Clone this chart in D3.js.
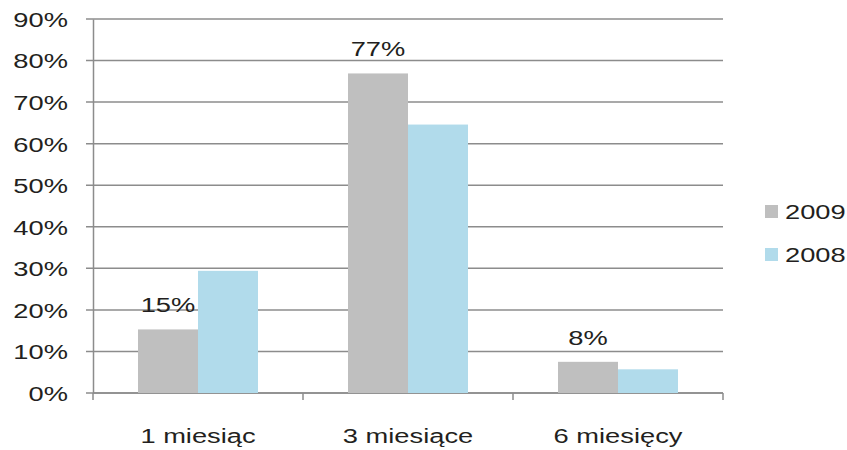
<!DOCTYPE html>
<html>
<head>
<meta charset="utf-8">
<script src="https://cdn.jsdelivr.net/npm/d3@7"></script>
<style>
  body { margin: 0; background: #fff; }
  text { font-family: "Liberation Sans", Arial, sans-serif; fill: #231f20; }
</style>
</head>
<body>
<div id="VizBox"></div>
<script>
var categories = ["1 miesiąc", "3 miesiące", "6 miesięcy"];
var seriesNames = ["2009", "2008"];
var values2009 = [15.3, 76.9, 7.5];
var values2008 = [29.4, 64.6, 5.7];
var labels2009 = ["15%", "77%", "8%"];
var yTicks = [0, 10, 20, 30, 40, 50, 60, 70, 80, 90];
var colors = ["#bfbfbf", "#b1dbeb"];

// the source picture is stretched sideways, so text gets the same stretch
var sx = 1.3;
var fontSize = "21px";

// set the dimensions and margins of the graph
var margin = {top: 19, right: 124, bottom: 57, left: 93},
    width = 847 - margin.left - margin.right,
    height = 450 - margin.top - margin.bottom;

var svg = d3.select("#VizBox")
  .append("svg")
    .attr("width", 847)
    .attr("height", 450)
  .append("g")
    .attr("transform", "translate(" + margin.left + "," + margin.top + ")");

// move x/y into a transform and widen the glyphs
function stretch(sel) {
  sel.each(function() {
    var t = d3.select(this);
    var tx = +t.attr("x") || 0, ty = +t.attr("y") || 0;
    t.attr("x", 0).attr("y", 0)
     .attr("transform", "translate(" + tx + "," + ty + ") scale(" + sx + ",1)");
  });
}

var x = d3.scaleBand()
  .domain(categories)
  .range([0, width])
  .paddingInner(0)
  .paddingOuter(0);

var x1 = d3.scaleBand()
  .domain(seriesNames)
  .range([45, x.bandwidth() - 45]);

var y = d3.scaleLinear()
  .domain([0, 90])
  .range([height, 0]);

// gridlines
svg.append("g")
  .selectAll("line")
  .data(yTicks)
  .enter()
  .append("line")
    .attr("x1", -7)
    .attr("x2", width)
    .attr("y1", function(d) { return y(d); })
    .attr("y2", function(d) { return y(d); })
    .attr("stroke", "#8c8c8c")
    .attr("stroke-width", 1.5);

// y axis
var yAxis = svg.append("g")
  .call(d3.axisLeft(y).tickValues(yTicks).tickSize(0).tickPadding(25)
    .tickFormat(function(d) { return d + "%"; }));
yAxis.select(".domain").attr("stroke", "#8c8c8c").attr("stroke-width", 1.5);
yAxis.selectAll("text")
  .attr("font-size", fontSize)
  .attr("dy", "0.35em")
  .style("font-family", "'Liberation Sans', Arial, sans-serif")
  .attr("fill", "#231f20")
  .call(stretch);

// x axis
var xAxis = svg.append("g")
  .attr("transform", "translate(0," + height + ")");
xAxis.append("line")
  .attr("x1", 0).attr("x2", width)
  .attr("stroke", "#8c8c8c").attr("stroke-width", 1.5);
xAxis.selectAll(".tk")
  .data([0, 1, 2, 3])
  .enter()
  .append("line")
    .attr("class", "tk")
    .attr("x1", function(d) { return d * x.step(); })
    .attr("x2", function(d) { return d * x.step(); })
    .attr("y1", 0).attr("y2", 7)
    .attr("stroke", "#8c8c8c").attr("stroke-width", 1.5);
xAxis.selectAll(".cat")
  .data(categories)
  .enter()
  .append("text")
    .attr("class", "cat")
    .attr("x", function(d) { return x(d) + x.bandwidth() / 2; })
    .attr("y", 50)
    .attr("text-anchor", "middle")
    .attr("font-size", fontSize)
    .text(function(d) { return d; })
    .call(stretch);

// bars
var rows = categories.map(function(c, i) {
  return {cat: c, vals: [{s: "2009", v: values2009[i]}, {s: "2008", v: values2008[i]}]};
});

var groups = svg.selectAll(".grp")
  .data(rows)
  .enter()
  .append("g")
    .attr("class", "grp")
    .attr("transform", function(d) { return "translate(" + x(d.cat) + ",0)"; });

groups.selectAll("rect")
  .data(function(d) { return d.vals; })
  .enter()
  .append("rect")
    .attr("x", function(d) { return x1(d.s); })
    .attr("y", function(d) { return y(d.v); })
    .attr("width", x1.bandwidth())
    .attr("height", function(d) { return height - y(d.v); })
    .attr("fill", function(d, i) { return colors[i]; });

// data labels for 2009
svg.selectAll(".lbl")
  .data(categories)
  .enter()
  .append("text")
    .attr("class", "lbl")
    .attr("x", function(d) { return x(d) + x1("2009") + x1.bandwidth() / 2; })
    .attr("y", function(d, i) { return y(values2009[i]) - 17; })
    .attr("text-anchor", "middle")
    .attr("font-size", fontSize)
    .text(function(d, i) { return labels2009[i]; })
    .call(stretch);

// legend
var legend = svg.selectAll(".leg")
  .data(seriesNames)
  .enter()
  .append("g")
    .attr("class", "leg")
    .attr("transform", function(d, i) { return "translate(" + (width + 42) + "," + (186 + i * 43) + ")"; });
legend.append("rect")
  .attr("width", 13).attr("height", 13)
  .attr("fill", function(d, i) { return colors[i]; });
legend.append("text")
  .attr("x", 20).attr("y", 6.5)
  .attr("dy", "0.35em")
  .attr("font-size", fontSize)
  .text(function(d) { return d; })
  .call(stretch);
</script>
</body>
</html>
